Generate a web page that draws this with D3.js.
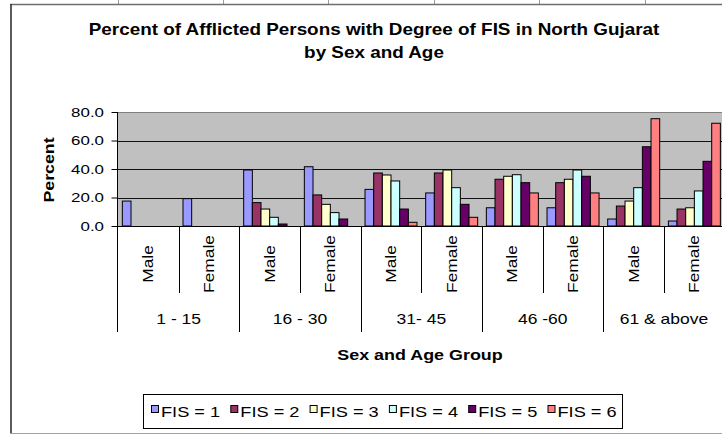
<!DOCTYPE html>
<html>
<head>
<meta charset="utf-8">
<script src="https://cdn.jsdelivr.net/npm/d3@7"></script>
<style>
  html, body { margin: 0; padding: 0; background: #fff; }
  svg { display: block; }
  text { font-family: "Liberation Sans", Arial, sans-serif; fill: #000; }
</style>
</head>
<body>
<svg id="chart" width="722" height="435"></svg>
<script>
// ---------- data ----------
const ageGroups = ["1 - 15", "16 - 30", "31- 45", "46 -60", "61 & above"];
const sexes = ["Male", "Female"];
const seriesNames = ["FIS = 1", "FIS = 2", "FIS = 3", "FIS = 4", "FIS = 5", "FIS = 6"];
const seriesColors = ["#9999FF", "#993366", "#FFFFCC", "#CCFFFF", "#660066", "#FF8080"];
// categories order: 1-15 M, 1-15 F, 16-30 M, 16-30 F, ...
const fis1 = [17.5, 19.2, 39.3, 41.6, 25.7, 23.2, 12.8, 12.8, 4.9, 3.5];
const fis2 = [0, 0, 16.4, 21.8, 37.2, 37.2, 32.8, 30.4, 14.0, 11.9];
const fis3 = [0, 0, 11.9, 15.2, 35.8, 39.3, 34.9, 32.8, 17.5, 12.8];
const fis4 = [0, 0, 6.1, 9.4, 31.6, 26.9, 36.0, 39.3, 26.9, 24.6];
const fis5 = [0, 0, 1.4, 4.9, 11.9, 15.2, 30.4, 34.9, 55.6, 45.4];
const fis6 = [0, 0, 0, 0, 2.6, 6.1, 23.2, 23.2, 75.3, 72.1];
const yTicks = [0, 20, 40, 60, 80];
const titleLines = ["Percent of Afflicted Persons with Degree of FIS in North Gujarat", "by Sex and Age"];
const xTitle = "Sex and Age Group";
const yTitle = "Percent";

const seriesValues = [fis1, fis2, fis3, fis4, fis5, fis6];
const categories = [];
ageGroups.forEach(g => sexes.forEach(s => categories.push({ group: g, sex: s, key: g + "|" + s })));

// ---------- layout ----------
const svg = d3.select("#chart");
const plot = { left: 118, right: 724.7, top: 112, bottom: 226 };

const x = d3.scaleBand().domain(categories.map(c => c.key)).range([plot.left, plot.right]).padding(0);
const bw = x.bandwidth();
const xInner = d3.scaleBand().domain(seriesNames).range([bw / 14, bw - bw / 14]).padding(0);
const y = d3.scaleLinear().domain([0, 80]).range([plot.bottom, plot.top]);

// helper: stretched text
function stext(parent, str, px, py, opts) {
  const o = Object.assign({ size: 14, weight: "normal", anchor: "middle", rot: 0, k: 1.25, dy: null }, opts || {});
  const t = parent.append("text")
    .attr("transform", `translate(${px},${py}) rotate(${o.rot}) scale(${o.k},1)`)
    .attr("text-anchor", o.anchor)
    .style("font-size", o.size + "px")
    .style("font-weight", o.weight)
    .text(str);
  if (o.dy) t.attr("dy", o.dy);
  return t;
}

// ---------- spreadsheet remnants & chart frame ----------
[118, 223, 328, 434, 539, 645].forEach(sx => {
  svg.append("line").attr("x1", sx + 0.5).attr("x2", sx + 0.5).attr("y1", 0).attr("y2", 4)
    .attr("stroke", "#9a9a9a").attr("stroke-width", 1);
});
svg.append("line").attr("x1", 10).attr("x2", 722).attr("y1", 4.5).attr("y2", 4.5)
  .attr("stroke", "#6e6e6e").attr("stroke-width", 1.5);
svg.append("line").attr("x1", 11).attr("x2", 11).attr("y1", 4).attr("y2", 433)
  .attr("stroke", "#333").attr("stroke-width", 1.6);
svg.append("line").attr("x1", 10).attr("x2", 722).attr("y1", 433.5).attr("y2", 433.5)
  .attr("stroke", "#a0a0a0").attr("stroke-width", 1);

// ---------- title ----------
stext(svg, titleLines[0], 374, 35, { size: 16, weight: "bold", k: 1.18 });
stext(svg, titleLines[1], 374, 58, { size: 16, weight: "bold", k: 1.18 });

// ---------- plot area ----------
svg.append("rect").attr("x", plot.left).attr("y", plot.top)
  .attr("width", plot.right - plot.left).attr("height", plot.bottom - plot.top)
  .attr("fill", "#C0C0C0");
svg.append("line").attr("x1", plot.left).attr("x2", plot.right)
  .attr("y1", plot.top + 0.5).attr("y2", plot.top + 0.5)
  .attr("stroke", "#808080").attr("stroke-width", 1);

// gridlines
svg.append("g").selectAll("line").data(yTicks.filter(v => v > 0 && v < 80)).join("line")
  .attr("x1", plot.left).attr("x2", plot.right)
  .attr("y1", d => Math.round(y(d)) + 0.5).attr("y2", d => Math.round(y(d)) + 0.5)
  .attr("stroke", "#111").attr("stroke-width", 1.2);

// bars
const barG = svg.append("g");
seriesValues.forEach((vals, si) => {
  barG.append("g").selectAll("rect").data(vals.map((v, ci) => ({ v, c: categories[ci] })).filter(d => d.v > 0))
    .join("rect")
    .attr("x", d => x(d.c.key) + xInner(seriesNames[si]))
    .attr("y", d => y(d.v))
    .attr("width", xInner.bandwidth())
    .attr("height", d => y(0) - y(d.v))
    .attr("fill", seriesColors[si])
    .attr("stroke", "#000").attr("stroke-width", 1);
});

// ---------- y axis ----------
const yAxis = d3.axisLeft(y).tickValues(yTicks).tickSize(6).tickFormat(d3.format(".1f"));
const yg = svg.append("g").attr("transform", `translate(${plot.left - 0.5},0)`).call(yAxis);
yg.select(".domain").remove();
yg.selectAll(".tick line").attr("stroke", "#000");
yg.selectAll(".tick text").remove();
yTicks.forEach(v => stext(svg, d3.format(".1f")(v), 104, y(v), { size: 13, anchor: "end", k: 1.3, dy: "0.36em" }));
svg.append("line").attr("x1", plot.left - 0.5).attr("x2", plot.left - 0.5)
  .attr("y1", plot.top).attr("y2", 332).attr("stroke", "#000").attr("stroke-width", 1);

// ---------- category axis ----------
const xg = svg.append("g");
xg.append("line").attr("x1", plot.left - 0.5).attr("x2", plot.right)
  .attr("y1", plot.bottom + 0.5).attr("y2", plot.bottom + 0.5).attr("stroke", "#000").attr("stroke-width", 1.2);
categories.forEach((c, i) => {
  const x0 = x(c.key);
  if (i > 0) {
    const isGroup = c.sex === "Male";
    xg.append("line").attr("x1", Math.round(x0) + 0.5).attr("x2", Math.round(x0) + 0.5)
      .attr("y1", plot.bottom).attr("y2", isGroup ? 332 : 293)
      .attr("stroke", "#000").attr("stroke-width", 1);
  }
  stext(xg, c.sex, x0 + bw / 2, 264, { size: 14, rot: -90, k: 1.24, dy: "0.36em" });
});
ageGroups.forEach(g => {
  const cx = x(g + "|Male") + bw;
  stext(xg, g, cx, 324, { size: 14, k: 1.25 });
});

// axis titles
stext(svg, xTitle, 420, 360, { size: 14, weight: "bold", k: 1.28 });
stext(svg, yTitle, 49, 170, { size: 14, weight: "bold", rot: -90, k: 1.27, dy: "0.36em" });

// ---------- legend ----------
const lg = svg.append("g");
lg.append("rect").attr("x", 143.5).attr("y", 394.5).attr("width", 479).attr("height", 34)
  .attr("fill", "#fff").attr("stroke", "#000").attr("stroke-width", 1);
seriesNames.forEach((n, i) => {
  const lx = 151 + i * 79.3;
  lg.append("rect").attr("x", lx + 0.5).attr("y", 405.5).attr("width", 7).attr("height", 7)
    .attr("fill", seriesColors[i]).attr("stroke", "#000").attr("stroke-width", 1);
  stext(lg, n, lx + 10, 417, { size: 14, anchor: "start", k: 1.3 });
});
</script>
</body>
</html>
